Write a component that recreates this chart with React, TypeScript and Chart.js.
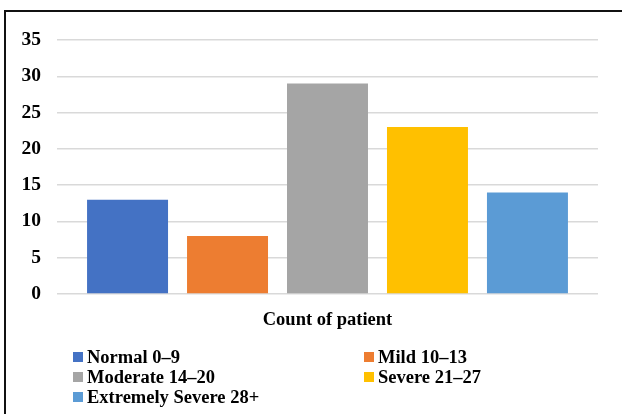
import React, { useEffect, useRef } from "react";
import { Chart, registerables } from "chart.js";

Chart.register(...registerables);

const categories = ["Count of patient"];
const seriesNames = ["Normal 0–9", "Mild 10–13", "Moderate 14–20", "Severe 21–27", "Extremely Severe 28+"];
const seriesValues = [13, 8, 29, 23, 14];
const seriesColors = ["#4472C4", "#ED7D31", "#A5A5A5", "#FFC000", "#5B9BD5"];
const yTicks = [0, 5, 10, 15, 20, 25, 30, 35];

const FONT = "'Liberation Serif', 'Times New Roman', serif";

export default function App() {
  const ref = useRef<HTMLCanvasElement | null>(null);

  useEffect(() => {
    if (!ref.current) return;
    const chart = new Chart(ref.current, {
      type: "bar",
      data: {
        labels: categories,
        datasets: seriesNames.map((name, i) => ({
          label: name,
          data: [seriesValues[i]],
          backgroundColor: seriesColors[i],
          borderWidth: 0,
          categoryPercentage: 0.924,
          barPercentage: 0.81,
        })),
      },
      options: {
        responsive: false,
        animation: false,
        devicePixelRatio: 1,
        layout: { padding: { top: 40, right: 24, bottom: 0, left: 0 } },
        plugins: { legend: { display: false }, tooltip: { enabled: false } },
        scales: {
          x: {
            grid: { display: false, drawTicks: false },
            border: { display: false },
            ticks: {
              padding: 15,
              color: "#000",
              font: { family: FONT, size: 18.5, weight: "bold" },
            },
            afterFit: (s: any) => {
              s.height = 414 - 294;
            },
          },
          y: {
            min: yTicks[0],
            max: yTicks[yTicks.length - 1],
            afterBuildTicks: (s: any) => {
              s.ticks = yTicks.map((v) => ({ value: v }));
            },
            grid: { color: "#d9d9d9", lineWidth: 1.5, drawTicks: false },
            border: { display: false },
            ticks: {
              padding: 16,
              color: "#000",
              font: { family: FONT, size: 19.5, weight: "bold" },
            },
            afterFit: (s: any) => {
              s.width = 57;
            },
          },
        },
      },
    });
    return () => chart.destroy();
  }, []);

  const legendPos = [
    { x: 73, y: 357 },
    { x: 364, y: 357 },
    { x: 73, y: 377 },
    { x: 364, y: 377 },
    { x: 73, y: 397 },
  ];

  return (
    <div style={{ position: "fixed", left: 0, top: 0, width: 622, height: 414, overflow: "hidden", background: "#fff" }}>
      <div
        style={{
          position: "absolute",
          left: 4,
          top: 10,
          width: 700,
          height: 500,
          borderLeft: "2px solid #111",
          borderTop: "2px solid #111",
        }}
      />
      <canvas ref={ref} width={622} height={414} style={{ position: "absolute", left: 0, top: 0, width: 622, height: 414 }} />
      {seriesNames.map((name, i) => (
        <div
          key={name}
          style={{
            position: "absolute",
            left: legendPos[i].x,
            top: legendPos[i].y - 10,
            height: 20,
            display: "flex",
            alignItems: "center",
            whiteSpace: "nowrap",
            fontFamily: FONT,
            fontWeight: "bold",
            fontSize: 18.5,
            color: "#000",
            lineHeight: "20px",
          }}
        >
          <span style={{ display: "inline-block", width: 10, height: 10, background: seriesColors[i], marginRight: 4 }} />
          <span>{name}</span>
        </div>
      ))}
    </div>
  );
}
